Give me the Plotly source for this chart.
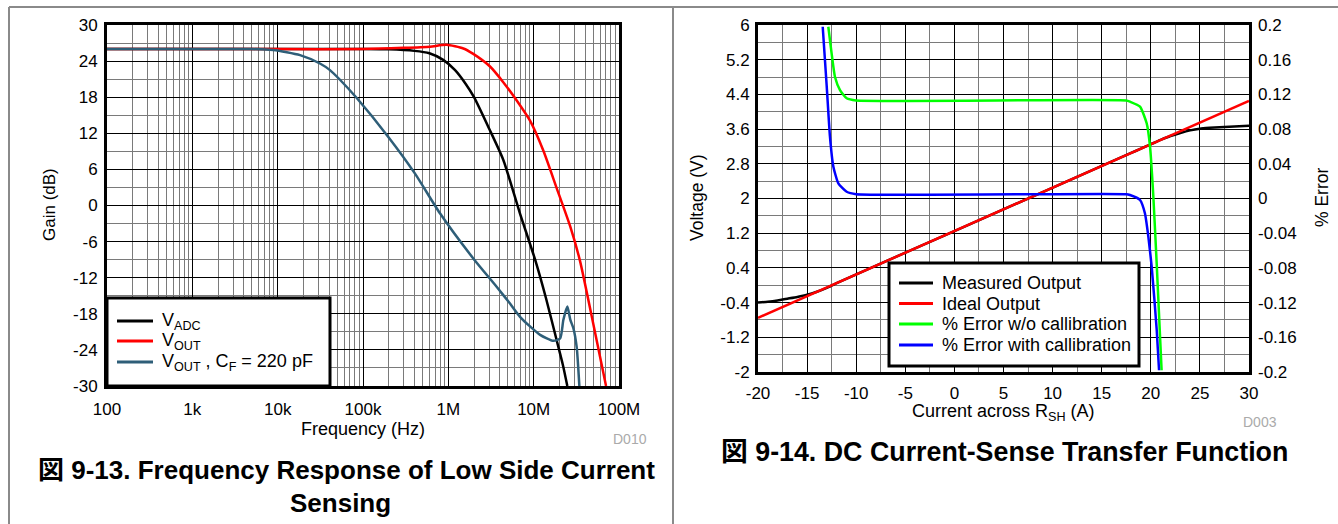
import plotly.graph_objects as go

# ---------------- Left chart data: Frequency response ----------------
freq_adc = [100, 1e3, 1e4, 1e5, 2e5, 4e5, 6e5, 8.7e5, 1.2e6, 1.6e6, 2e6, 3e6, 4.4e6,
            6.9e6, 1.04e7, 1.4e7, 1.86e7, 2.2e7, 2.48e7]
gain_adc = [26, 26, 26, 26, 25.95, 25.7, 25.3, 24.2, 22.5, 20.2, 18.0, 12.8, 7.6,
            -1.3, -9.0, -15.5, -22.4, -26.5, -30]

freq_out = [100, 1e3, 1e4, 1e5, 3e5, 6.1e5, 9.5e5, 1.5e6, 1.96e6, 3.08e6, 4.4e6, 6.3e6,
            9.06e6, 1.3e7, 1.86e7, 2.67e7, 3.49e7, 5.0e7, 7.05e7]
gain_out = [26, 26, 26, 26, 26.2, 26.4, 26.7, 26.1, 25.2, 23.1, 20.5, 17.5,
            14.1, 9.1, 2.9, -3.4, -9.2, -19.7, -30]

freq_cf = [100, 1e3, 5e3, 8.9e3, 1.83e4, 3.13e4, 4.1e4, 5.37e4, 8.4e4, 1.98e5, 4.07e5,
           7.98e5, 1.96e6, 3.68e6, 5.28e6, 6.92e6, 9.06e6, 1.19e7, 1.7e7, 2.04e7,
           2.23e7, 2.48e7, 2.69e7, 2.92e7, 3.19e7, 3.43e7]
gain_cf = [26, 26, 26, 25.85, 25.0, 23.6, 22.5, 20.9, 17.9, 11.4, 5.3,
           -1.3, -8.8, -13.5, -16.3, -18.5, -20.1, -21.5, -22.5, -22.1,
           -19.0, -16.8, -19.0, -20.4, -23.5, -30]

names_left = ["V<sub>ADC</sub>", "V<sub>OUT</sub>", "V<sub>OUT</sub> , C<sub>F</sub> = 220 pF"]
colors_left = ["#000000", "#ff0000", "#2e5e78"]

x1_tickvals = [1e2, 1e3, 1e4, 1e5, 1e6, 1e7, 1e8]
x1_ticktext = ["100", "1k", "10k", "100k", "1M", "10M", "100M"]
y1_tickvals = [-30, -24, -18, -12, -6, 0, 6, 12, 18, 24, 30]
y1_ticktext = ["-30", "-24", "-18", "-12", "-6", "0", "6", "12", "18", "24", "30"]

# ---------------- Right chart data: DC transfer function ----------------
cur_ideal = [-20, 30]
volt_ideal = [-0.75, 4.25]

cur_meas = [-20, -19, -18, -17, -16, -15, -14, -13, -12, 0, 18, 19, 20, 21, 22,
            23, 24, 25, 26, 27, 28, 29, 30]
volt_meas = [-0.40, -0.38, -0.35, -0.31, -0.27, -0.22, -0.15, -0.06, 0.05, 1.25, 3.05,
             3.15, 3.25, 3.35, 3.44, 3.51, 3.57, 3.61, 3.63, 3.645, 3.655, 3.665, 3.675]

cur_err_nocal = [-12.84, -12.5, -12.16, -11.65, -10.97, -10.0, 17.5, 17.88, 18.9, 19.58,
                 19.92, 20.26, 20.6, 21.1]
err_nocal = [0.198, 0.167, 0.140, 0.125, 0.1155, 0.113, 0.113, 0.1116, 0.106, 0.0867,
             0.06, 0.002, -0.075, -0.198]

cur_err_cal = [-13.41, -13.0, -12.67, -12.33, -11.82, -10.97, -10.0, 17.5, 17.88, 18.9,
               19.4, 19.75, 20.09, 20.6, 20.84]
err_cal = [0.198, 0.129, 0.071, 0.037, 0.0175, 0.0078, 0.005, 0.005, 0.004, -0.0017,
           -0.017, -0.044, -0.0786, -0.151, -0.198]

names_right = ["Measured Output", "Ideal Output", "% Error w/o callibration",
               "% Error with callibration"]
colors_right = ["#000000", "#ff0000", "#00ff00", "#0000ff"]

x2_tickvals = [-20, -15, -10, -5, 0, 5, 10, 15, 20, 25, 30]
x2_ticktext = ["-20", "-15", "-10", "-5", "0", "5", "10", "15", "20", "25", "30"]
y2_tickvals = [-2, -1.2, -0.4, 0.4, 1.2, 2, 2.8, 3.6, 4.4, 5.2, 6]
y2_ticktext = ["-2", "-1.2", "-0.4", "0.4", "1.2", "2", "2.8", "3.6", "4.4", "5.2", "6"]
y3_tickvals = [-0.2, -0.16, -0.12, -0.08, -0.04, 0, 0.04, 0.08, 0.12, 0.16, 0.2]
y3_ticktext = ["-0.2", "-0.16", "-0.12", "-0.08", "-0.04", "0", "0.04", "0.08", "0.12",
               "0.16", "0.2"]

# ---------------- Figure ----------------
W, H = 1338, 524
FONT = "Arial, 'Liberation Sans', 'Noto Sans CJK JP', sans-serif"


def px(x):
    return x / W


def py(y):
    return 1 - y / H


fig = go.Figure()
LW = 2.5

for fx, gy, nm, col in zip([freq_adc, freq_out, freq_cf], [gain_adc, gain_out, gain_cf],
                           names_left, colors_left):
    fig.add_trace(go.Scatter(x=fx, y=gy, name=nm, mode="lines", showlegend=False,
                             line=dict(color=col, width=LW, shape="spline", smoothing=0.6),
                             xaxis="x", yaxis="y"))

fig.add_trace(go.Scatter(x=cur_meas, y=volt_meas, name=names_right[0], mode="lines",
                         showlegend=False,
                         line=dict(color=colors_right[0], width=LW, shape="spline", smoothing=0.5),
                         xaxis="x2", yaxis="y2"))
fig.add_trace(go.Scatter(x=cur_ideal, y=volt_ideal, name=names_right[1], mode="lines",
                         showlegend=False, line=dict(color=colors_right[1], width=LW),
                         xaxis="x2", yaxis="y2"))
fig.add_trace(go.Scatter(x=cur_err_nocal, y=err_nocal, name=names_right[2], mode="lines",
                         showlegend=False,
                         line=dict(color=colors_right[2], width=LW, shape="spline", smoothing=0.5),
                         xaxis="x2", yaxis="y3"))
fig.add_trace(go.Scatter(x=cur_err_cal, y=err_cal, name=names_right[3], mode="lines",
                         showlegend=False,
                         line=dict(color=colors_right[3], width=LW, shape="spline", smoothing=0.5),
                         xaxis="x2", yaxis="y3"))

MAJ = "#000000"
MIN = "#7a7a7a"
TICK_SIZE = 17
tickfont = dict(family=FONT, size=TICK_SIZE, color="#000")

minor_log = [m * 10 ** e for e in range(2, 8) for m in range(2, 10)]

axis_common = dict(showline=True, linecolor="#000", linewidth=3, mirror=True,
                   zeroline=False, ticks="", tickfont=tickfont, gridcolor=MAJ, gridwidth=1,
                   showgrid=True, automargin=False, fixedrange=True)

fig.update_layout(
    template="none",
    width=W, height=H, autosize=False,
    margin=dict(l=0, r=0, t=0, b=0, pad=0, autoexpand=False),
    paper_bgcolor="white", plot_bgcolor="white",
    font=dict(family=FONT, size=16, color="#000"),
    showlegend=False,
    xaxis=dict(axis_common, type="log", domain=[px(107), px(619)], range=[2, 8],
               tickvals=x1_tickvals, ticktext=x1_ticktext, anchor="y",
               ticklabelstandoff=6,
               minor=dict(tickvals=minor_log, showgrid=True, gridcolor=MIN, gridwidth=1)),
    yaxis=dict(axis_common, domain=[py(386), py(25)], range=[-30, 30],
               tickvals=y1_tickvals, ticktext=y1_ticktext, anchor="x", ticklabelstandoff=3,
               minor=dict(dtick=3, tick0=0, showgrid=True, gridcolor=MIN, gridwidth=1)),
    xaxis2=dict(axis_common, domain=[px(758), px(1249)], range=[-20, 30],
                tickvals=x2_tickvals, ticktext=x2_ticktext, anchor="y2", ticklabelstandoff=4,
                minor=dict(dtick=2.5, tick0=0, showgrid=True, gridcolor=MIN, gridwidth=1)),
    yaxis2=dict(axis_common, domain=[py(372), py(25)], range=[-2, 6],
                tickvals=y2_tickvals, ticktext=y2_ticktext, anchor="x2", ticklabelstandoff=2,
                minor=dict(dtick=0.4, tick0=-2, showgrid=True, gridcolor=MIN, gridwidth=1)),
    yaxis3=dict(showline=False, zeroline=False, ticks="", tickfont=tickfont, showgrid=False,
                overlaying="y2", side="right", anchor="x2", range=[-0.2, 0.2],
                tickvals=y3_tickvals, ticktext=y3_ticktext, ticklabelstandoff=8,
                automargin=False, fixedrange=True),
)

# panel frame lines (table cell borders)
frame_col = "#8a8a8a"
for (x0, y0, x1, y1) in [(9, 7, 1338, 7), (9, 7, 9, 524), (673, 7, 673, 524)]:
    fig.add_shape(type="line", xref="paper", yref="paper", x0=px(x0), y0=py(y0),
                  x1=px(x1), y1=py(y1), line=dict(color=frame_col, width=2))


def add_text(text, x, y, size, color="#000", angle=0, xanchor="center"):
    fig.add_annotation(text=text, x=px(x), y=py(y), xref="paper", yref="paper",
                       xanchor=xanchor, yanchor="middle", showarrow=False,
                       textangle=angle, align="center", borderpad=0,
                       font=dict(family=FONT, size=size, color=color))


# manual legends (box, line sample, label)
def add_legend(box, rows_y, sample_x, text_x, names, colors):
    x0, y0, x1, y1 = box
    fig.add_shape(type="rect", xref="paper", yref="paper", x0=px(x0), y0=py(y1),
                  x1=px(x1), y1=py(y0), fillcolor="white", line=dict(color="#000", width=3),
                  layer="above")
    for ry, nm, col in zip(rows_y, names, colors):
        fig.add_shape(type="line", xref="paper", yref="paper", x0=px(sample_x[0]), y0=py(ry),
                      x1=px(sample_x[1]), y1=py(ry), line=dict(color=col, width=3), layer="above")
        add_text(nm, text_x, ry, 18, xanchor="left")


add_legend((107, 298, 330, 386), [321, 341, 362], (117, 153), 161, names_left, colors_left)
add_legend((889, 263, 1139, 366), [283, 303.5, 324, 345], (899, 933), 941, names_right,
           colors_right)

add_text("Gain (dB)", 50, 205, 17, angle=-90)
add_text("Frequency (Hz)", 363, 429, 18)
add_text("D010", 630, 439, 14, color="#aaaaaa")
add_text("<b>図 9-13. Frequency Response of Low Side Current</b>", 346, 470, 26)
add_text("<b>Sensing</b>", 340, 503, 26)
add_text("Voltage (V)", 697, 198, 17.5, angle=-90)
add_text("% Error", 1322, 198, 17.5, angle=-90)
add_text("Current across R<sub>SH</sub> (A)", 1003, 412, 18)
add_text("D003", 1260, 422, 14, color="#aaaaaa")
add_text("<b>図 9-14. DC Current-Sense Transfer Function</b>", 1005, 452, 26.8)

fig.write_html("out.html", config={"displayModeBar": False, "responsive": False},
               post_script="document.body.style.margin='0';")
